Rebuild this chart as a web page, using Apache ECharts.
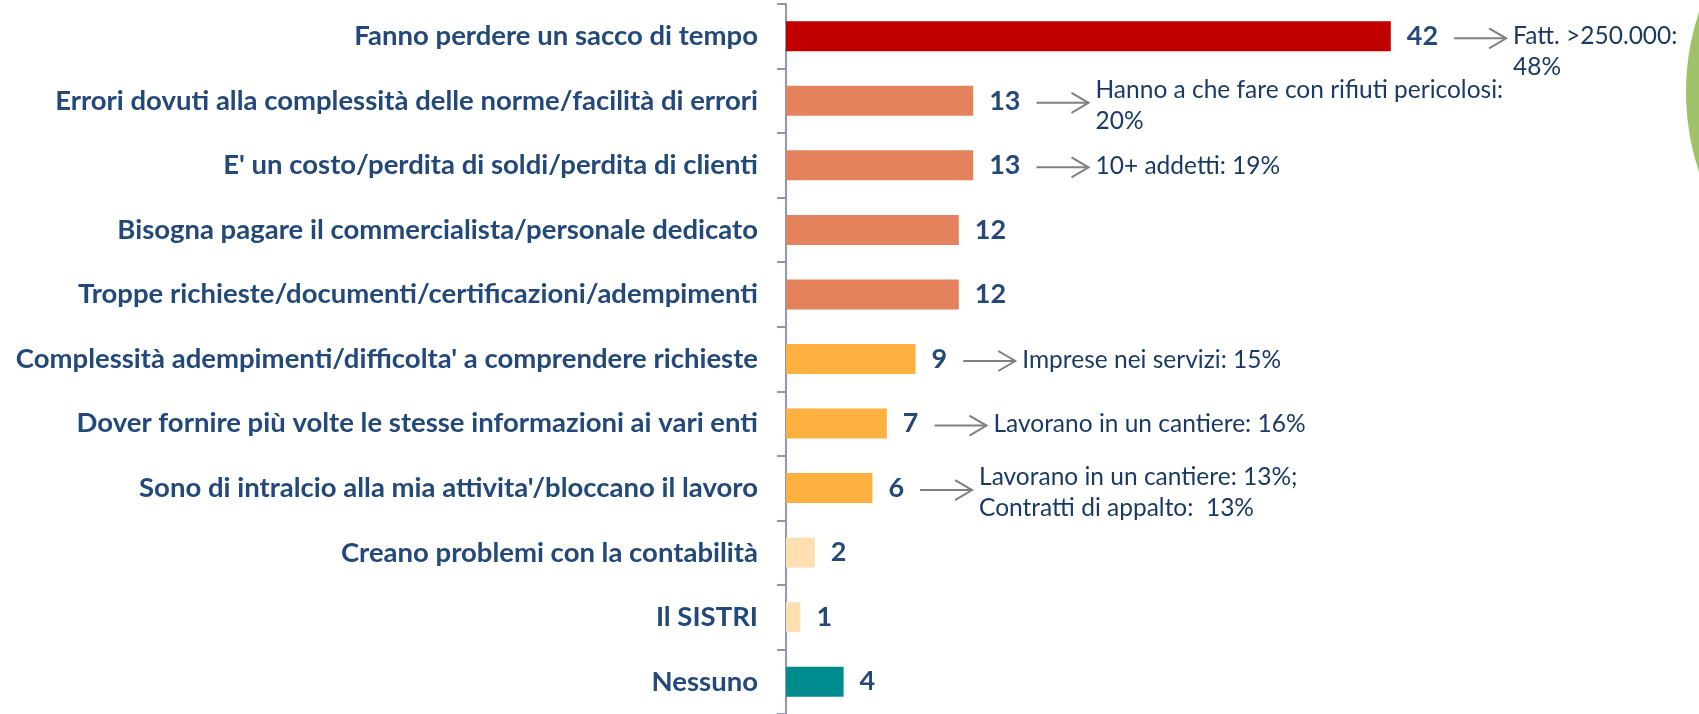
<!DOCTYPE html>
<html>
<head>
<meta charset="utf-8">
<script src="https://cdn.jsdelivr.net/npm/echarts@6/dist/echarts.min.js"></script>
<style>
  html, body { margin: 0; padding: 0; background: #fff; }
  #chart { width: 1699px; height: 714px; }
</style>
</head>
<body>
<div id="chart"></div>
<script>
// dati (% di risposte)
var categories = [
  'Fanno perdere un sacco di tempo',
  'Errori dovuti alla complessità delle norme/facilità di errori',
  "E' un costo/perdita di soldi/perdita di clienti",
  'Bisogna pagare il commercialista/personale dedicato',
  'Troppe richieste/documenti/certificazioni/adempimenti',
  "Complessità adempimenti/difficolta' a comprendere richieste",
  'Dover fornire più volte le stesse informazioni ai vari enti',
  "Sono di intralcio alla mia attivita'/bloccano il lavoro",
  'Creano problemi con la contabilità',
  'Il SISTRI',
  'Nessuno'
];
var values = [42, 13, 13, 12, 12, 9, 7, 6, 2, 1, 4];
var notes = [
  'Fatt. >250.000:\n48%',
  'Hanno a che fare con rifiuti pericolosi:\n20%',
  '10+ addetti: 19%',
  '', '',
  'Imprese nei servizi: 15%',
  'Lavorano in un cantiere: 16%',
  'Lavorano in un cantiere: 13%;\nContratti di appalto:  13%',
  '', '', ''
];

// colori per fascia
function barColor(i) {
  if (i === 0) return '#C00000';
  if (i <= 4) return '#E4825D';
  if (i <= 7) return '#FBB040';
  if (i <= 9) return '#FEDFB2';
  return '#008C8F';
}

var blue = '#23487A';
var valueFont = 'bold 27px Lato';

var myChart = echarts.init(document.getElementById('chart'));

var option = {
  animation: false,
  grid: { left: 786, right: 49, top: 4, bottom: 0, containLabel: false },
  xAxis: {
    type: 'value', min: 0, max: 60,
    show: false
  },
  yAxis: {
    type: 'category',
    inverse: true,
    data: categories,
    axisLine: { lineStyle: { color: '#8E98B2', width: 2 } },
    axisTick: { show: true, length: 9, lineStyle: { color: '#8E98B2', width: 2 } },
    axisLabel: {
      margin: 28,
      color: blue,
      fontFamily: 'Lato',
      fontWeight: 'bold',
      fontSize: 27.5
    }
  },
  series: [{
    type: 'bar',
    barWidth: 30,
    data: values.map(function (v, i) {
      return { value: v, itemStyle: { color: barColor(i) } };
    }),
    label: {
      show: true,
      position: 'right',
      distance: 16,
      color: blue,
      fontFamily: 'Lato',
      fontWeight: 'bold',
      fontSize: 27
    }
  }]
};
myChart.setOption(option);

// frecce e note a destra delle barre
var ctx = document.createElement('canvas').getContext('2d');
ctx.font = valueFont;
var elements = [];
notes.forEach(function (note, i) {
  if (!note) return;
  var p = myChart.convertToPixel({ gridIndex: 0 }, [values[i], i]);
  var x0 = p[0] + 16 + ctx.measureText(String(values[i])).width + 16;
  var x1 = x0 + 52;
  var y = p[1] + 2;
  elements.push({
    type: 'polyline',
    shape: { points: [[x0, y], [x1, y]] },
    style: { stroke: '#808080', lineWidth: 2, fill: null }
  });
  elements.push({
    type: 'polyline',
    shape: { points: [[x1 - 17, y - 10], [x1, y], [x1 - 17, y + 10]] },
    style: { stroke: '#808080', lineWidth: 2, fill: null }
  });
  var twoLines = note.indexOf('\n') >= 0;
  elements.push({
    type: 'text',
    x: x1 + 7,
    y: (i === 0) ? p[1] - 16 : p[1] + (twoLines ? 5 : 1),
    style: {
      text: note,
      fill: '#1A3A66',
      font: '24.5px Lato',
      lineHeight: 31,
      verticalAlign: (i === 0) ? 'top' : 'middle'
    }
  });
});

// cerchio verde sul bordo destro
elements.push({
  type: 'circle',
  shape: { cx: 1938, cy: 92, r: 252 },
  style: { fill: '#9FC167' },
  z: -1
});

myChart.setOption({ graphic: elements });
</script>
</body>
</html>
